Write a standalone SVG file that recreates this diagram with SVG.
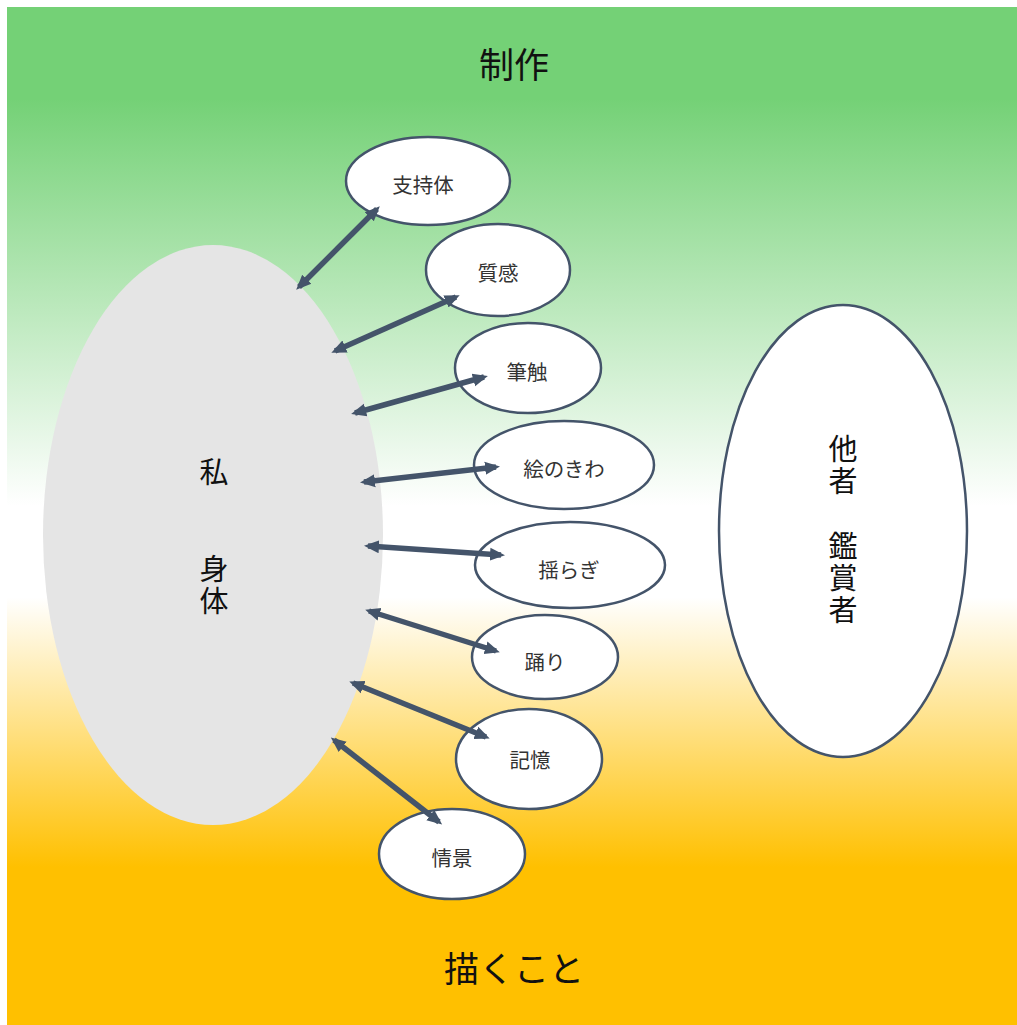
<svg xmlns="http://www.w3.org/2000/svg" width="1017" height="1025" viewBox="0 0 1017 1025">
<style>
.node{fill:#fff;stroke:#44546A;stroke-width:2.5}
.lbl{font-family:"Noto Sans CJK JP","Noto Sans CJK SC",sans-serif;font-size:20.5px;fill:#333;text-anchor:middle;dominant-baseline:central}
.big{font-family:"Noto Sans CJK JP","Noto Sans CJK SC",sans-serif;font-size:29px;fill:#111;text-anchor:middle;dominant-baseline:central}
.vert{font-family:"Noto Sans CJK JP","Noto Sans CJK SC",sans-serif;font-size:29px;fill:#111;writing-mode:vertical-rl;text-anchor:start;letter-spacing:3px}
.title{font-family:"Noto Sans CJK JP","Noto Sans CJK SC",sans-serif;font-size:35px;fill:#111;text-anchor:middle;dominant-baseline:central}
.conn line{stroke:#44546A;stroke-width:5.5;marker-start:url(#ah);marker-end:url(#ah)}
</style>
<defs>
<linearGradient id="bg" x1="0" y1="0" x2="0" y2="1">
<stop offset="0" stop-color="#74D176"/>
<stop offset="0.09" stop-color="#74D176"/>
<stop offset="0.49" stop-color="#FFFFFF"/>
<stop offset="0.58" stop-color="#FFFFFF"/>
<stop offset="0.845" stop-color="#FFC000"/>
<stop offset="1" stop-color="#FFC000"/>
</linearGradient>
<marker id="ah" markerUnits="userSpaceOnUse" markerWidth="16" markerHeight="16" viewBox="0 0 16 16" refX="11" refY="8" orient="auto-start-reverse">
<path d="M0,1.5 L15,8 L0,14.5 Z" fill="#44546A"/>
</marker>
</defs>
<rect x="7" y="7" width="1010" height="1018" fill="url(#bg)"/>
<text class="title" x="514" y="62">制作</text>
<text class="title" x="514" y="966">描くこと</text>
<g id="self">
<ellipse cx="213" cy="535" rx="170" ry="290" fill="#E5E5E5"/>
<text class="big" x="214" y="470">私</text>
<text class="vert" x="214" y="554">身体</text>
</g>
<g id="others">
<ellipse class="node" cx="843" cy="531" rx="124" ry="226"/>
<text class="vert" x="843" y="434">他者</text>
<text class="vert" x="843" y="531">鑑賞者</text>
</g>
<g id="n1"><ellipse class="node" cx="428" cy="181" rx="82" ry="44"/><text class="lbl" x="423" y="184">支持体</text></g>
<g id="n2"><ellipse class="node" cx="498" cy="270" rx="72" ry="46"/><text class="lbl" x="498" y="272">質感</text></g>
<g id="n3"><ellipse class="node" cx="528" cy="368" rx="73" ry="45"/><text class="lbl" x="527" y="371">筆触</text></g>
<g id="n4"><ellipse class="node" cx="564" cy="465" rx="90" ry="44"/><text class="lbl" x="564" y="468">絵のきわ</text></g>
<g id="n5"><ellipse class="node" cx="570" cy="565" rx="95" ry="43"/><text class="lbl" x="569" y="569">揺らぎ</text></g>
<g id="n6"><ellipse class="node" cx="545" cy="657" rx="73" ry="42"/><text class="lbl" x="545" y="661">踊り</text></g>
<g id="n7"><ellipse class="node" cx="529" cy="759" rx="73" ry="50"/><text class="lbl" x="530" y="759">記憶</text></g>
<g id="n8"><ellipse class="node" cx="452" cy="854" rx="73" ry="45"/><text class="lbl" x="452" y="857">情景</text></g>
<g class="conn" id="connectors">
<line x1="377" y1="209" x2="299" y2="287"/>
<line x1="456" y1="297" x2="335" y2="351"/>
<line x1="484" y1="377" x2="355" y2="413"/>
<line x1="496" y1="467" x2="364" y2="482"/>
<line x1="501" y1="555" x2="368" y2="546"/>
<line x1="496" y1="651" x2="369" y2="611"/>
<line x1="486" y1="737" x2="353" y2="683"/>
<line x1="439" y1="822" x2="334" y2="740"/>
</g>
</svg>
